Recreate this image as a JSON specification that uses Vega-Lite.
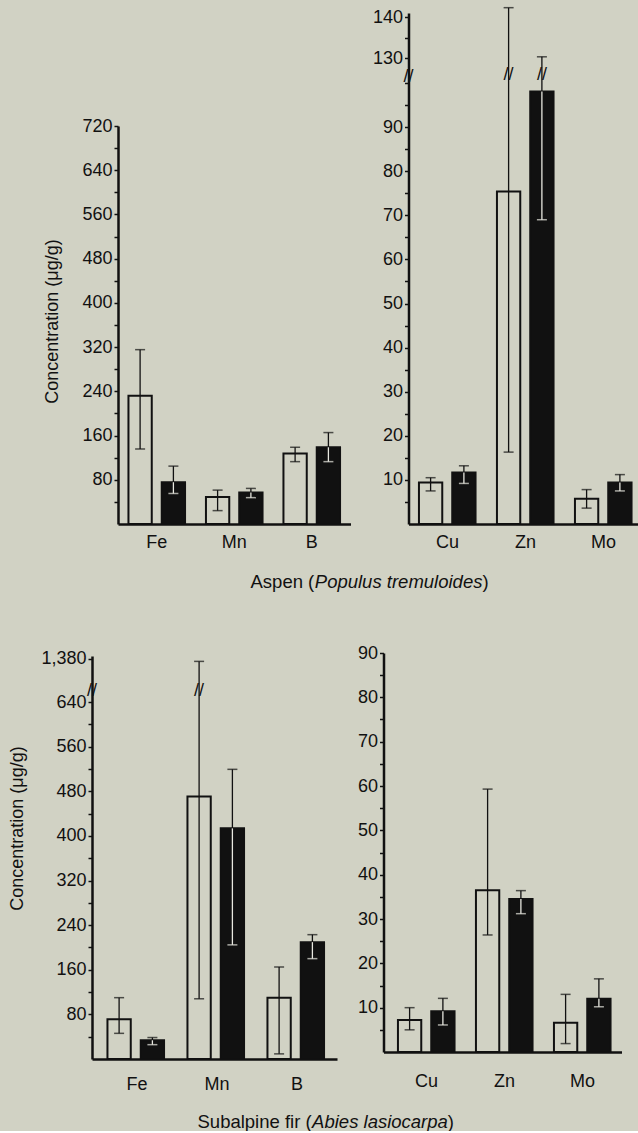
{
  "$schema": "https://vega.github.io/schema/vega-lite/v6.json",
  "background": "#d1d2c4",
  "padding": {"left": 8, "top": 6, "right": 0, "bottom": 0},
  "config": {
    "font": "Liberation Sans",
    "view": {"stroke": null},
    "axis": {
      "domainColor": "#111111", "domainWidth": 2.5,
      "tickColor": "#111111", "tickWidth": 1.5,
      "labelColor": "#111111", "labelFont": "Liberation Sans", "labelFontSize": 18,
      "titleColor": "#111111", "titleFont": "Liberation Sans", "titleFontSize": 18, "titleFontWeight": "normal",
      "grid": false, "labelOverlap": false, "labelFlush": false
    }
  },
  "datasets": {
    "aspenA": [
      {"element": "Fe", "group": "open", "value": 231.8, "lo": 135.7, "hi": 315.4},
      {"element": "Fe", "group": "solid", "value": 75.6, "lo": 55.2, "hi": 104.7},
      {"element": "Mn", "group": "open", "value": 49, "lo": 24.2, "hi": 61.3},
      {"element": "Mn", "group": "solid", "value": 57, "lo": 47.7, "hi": 64.4},
      {"element": "B", "group": "open", "value": 127.7, "lo": 112.8, "hi": 138.8},
      {"element": "B", "group": "solid", "value": 138.8, "lo": 112.8, "hi": 165.4}
    ],
    "aspenB": [
      {"element": "Cu", "group": "open", "value": 9.4, "lo": 7.5, "hi": 10.5},
      {"element": "Cu", "group": "solid", "value": 11.7, "lo": 9.2, "hi": 13.2},
      {"element": "Zn", "group": "open", "value": 75.4, "lo": 16.3, "hi": 142.3},
      {"element": "Zn", "group": "solid", "value": 98.1, "lo": 69, "hi": 130.3},
      {"element": "Mo", "group": "open", "value": 5.7, "lo": 3.6, "hi": 7.8},
      {"element": "Mo", "group": "solid", "value": 9.4, "lo": 7.5, "hi": 11.2}
    ],
    "firA": [
      {"element": "Fe", "group": "open", "value": 71.5, "lo": 46, "hi": 110},
      {"element": "Fe", "group": "solid", "value": 33.6, "lo": 25.7, "hi": 38.5},
      {"element": "Mn", "group": "open", "value": 470.6, "lo": 108, "hi": 1375},
      {"element": "Mn", "group": "solid", "value": 413.7, "lo": 204.7, "hi": 519.5},
      {"element": "B", "group": "open", "value": 110, "lo": 9.2, "hi": 165},
      {"element": "B", "group": "solid", "value": 209.6, "lo": 180, "hi": 223}
    ],
    "firB": [
      {"element": "Cu", "group": "open", "value": 7.2, "lo": 5.0, "hi": 10.0},
      {"element": "Cu", "group": "solid", "value": 9.2, "lo": 6.1, "hi": 12.1},
      {"element": "Zn", "group": "open", "value": 36.5, "lo": 26.4, "hi": 59.3},
      {"element": "Zn", "group": "solid", "value": 34.5, "lo": 31.2, "hi": 36.4},
      {"element": "Mo", "group": "open", "value": 6.6, "lo": 1.9, "hi": 13.0},
      {"element": "Mo", "group": "solid", "value": 12.0, "lo": 10.2, "hi": 16.5}
    ]
  },
  "columns": 2,
  "spacing": {"row": 129, "column": 32.5},
  "bounds": "flush",
  "align": "all",
  "concat": [
    {
      "width": 258.5, "height": 511,
      "data": {"name": "aspenA"},
      "encoding": {
        "x": {"field": "element", "type": "nominal", "sort": ["Fe", "Mn", "B"],
          "scale": {"range": [26, 258.5], "paddingInner": 0, "paddingOuter": 0},
          "axis": {"title": "Aspen (", "labelAngle": 0, "ticks": false, "tickSize": 0, "labelPadding": 18, "labelBaseline": "middle",
            "titleX": 158, "titleY": 57, "titleAlign": "left", "titleBaseline": "middle", "titleFontSize": 18.5, "zindex": 1}},
        "xOffset": {"field": "group", "type": "nominal", "sort": ["open", "solid"], "scale": {"paddingInner": 0.3, "paddingOuter": 0.314}}
      },
      "layer": [
        {"mark": {"type": "rule", "color": "#111111", "strokeWidth": 1.3},
          "encoding": {"y": {"field": "lo", "type": "quantitative", "scale": {"domain": [0, 720], "range": [511, 113], "nice": false, "zero": false},
            "axis": {"title": "Concentration (μg/g)", "values": [40, 80, 120, 160, 200, 240, 280, 320, 360, 400, 440, 480, 520, 560, 600, 640, 680, 720],
                "labelExpr": "datum.value % 80 === 0 ? datum.label : ''", "tickSize": 4, "labelPadding": 2, "offset": -26,
                "titleX": -66, "titleY": 308, "titleAngle": 270, "titleAlign": "center", "titleBaseline": "middle"}}, "y2": {"field": "hi"}}},
        {"mark": {"type": "bar", "stroke": "#111111", "strokeWidth": 2},
          "encoding": {
            "y": {"field": "value", "type": "quantitative", "stack": null, "scale": {"domain": [0, 720], "range": [511, 113], "nice": false, "zero": false},
              "axis": {"title": "Concentration (μg/g)", "values": [40, 80, 120, 160, 200, 240, 280, 320, 360, 400, 440, 480, 520, 560, 600, 640, 680, 720],
                "labelExpr": "datum.value % 80 === 0 ? datum.label : ''", "tickSize": 4, "labelPadding": 2, "offset": -26,
                "titleX": -66, "titleY": 308, "titleAngle": 270, "titleAlign": "center", "titleBaseline": "middle"}},
            "fill": {"condition": {"test": "datum.group === 'solid'", "value": "#111111"}, "value": "transparent"}}},
        {"transform": [{"filter": "datum.group === 'solid'"}],
          "mark": {"type": "rule", "color": "#e8e8e0", "strokeWidth": 1.3},
          "encoding": {"y": {"field": "lo", "type": "quantitative", "scale": {"domain": [0, 720], "range": [511, 113], "nice": false, "zero": false},
            "axis": {"title": "Concentration (μg/g)", "values": [40, 80, 120, 160, 200, 240, 280, 320, 360, 400, 440, 480, 520, 560, 600, 640, 680, 720],
                "labelExpr": "datum.value % 80 === 0 ? datum.label : ''", "tickSize": 4, "labelPadding": 2, "offset": -26,
                "titleX": -66, "titleY": 308, "titleAngle": 270, "titleAlign": "center", "titleBaseline": "middle"}}, "y2": {"field": "value"}}},
        {"mark": {"type": "tick", "color": "#111111", "thickness": 1.5, "size": 10},
          "encoding": {"y": {"field": "hi", "type": "quantitative", "scale": {"domain": [0, 720], "range": [511, 113], "nice": false, "zero": false},
            "axis": {"title": "Concentration (μg/g)", "values": [40, 80, 120, 160, 200, 240, 280, 320, 360, 400, 440, 480, 520, 560, 600, 640, 680, 720],
                "labelExpr": "datum.value % 80 === 0 ? datum.label : ''", "tickSize": 4, "labelPadding": 2, "offset": -26,
                "titleX": -66, "titleY": 308, "titleAngle": 270, "titleAlign": "center", "titleBaseline": "middle"}}}},
        {"mark": {"type": "tick", "thickness": 1.5, "size": 10},
          "encoding": {"y": {"field": "lo", "type": "quantitative", "scale": {"domain": [0, 720], "range": [511, 113], "nice": false, "zero": false},
            "axis": {"title": "Concentration (μg/g)", "values": [40, 80, 120, 160, 200, 240, 280, 320, 360, 400, 440, 480, 520, 560, 600, 640, 680, 720],
                "labelExpr": "datum.value % 80 === 0 ? datum.label : ''", "tickSize": 4, "labelPadding": 2, "offset": -26,
                "titleX": -66, "titleY": 308, "titleAngle": 270, "titleAlign": "center", "titleBaseline": "middle"}},
            "color": {"condition": {"test": "datum.group === 'solid'", "value": "#e8e8e0"}, "value": "#111111"}}}
      ]
    },
    {
      "width": 259, "height": 511,
      "data": {"name": "aspenB"},
      "layer": [
        {
          "encoding": {
            "x": {"field": "element", "type": "nominal", "sort": ["Cu", "Zn", "Mo"],
              "scale": {"range": [25, 259], "paddingInner": 0, "paddingOuter": 0},
              "axis": {"title": "Populus tremuloides", "labelAngle": 0, "ticks": false, "tickSize": 0, "labelPadding": 18, "labelBaseline": "middle",
                "titleX": -69.2, "titleY": 57, "titleAlign": "left", "titleBaseline": "middle", "titleFontSize": 18.5, "titleFontStyle": "italic", "zindex": 1}},
            "xOffset": {"field": "group", "type": "nominal", "sort": ["open", "solid"], "scale": {"paddingInner": 0.3, "paddingOuter": 0.314}}
          },
          "layer": [
            {"mark": {"type": "rule", "color": "#111111", "strokeWidth": 1.3},
              "encoding": {"y": {"field": "lo", "type": "quantitative", "scale": {"domain": [0, 101, 126, 141], "range": [511, 65.6, 61.4, 0], "nice": false, "zero": false},
                "axis": {"title": ")", "values": [5, 10, 15, 20, 25, 30, 35, 40, 45, 50, 55, 60, 65, 70, 75, 80, 85, 90, 95, 100, 130, 135, 140],
                    "labelExpr": "(datum.value % 10 === 0 && datum.value !== 100) ? datum.label : ''", "tickSize": 4, "labelPadding": 2, "offset": -25,
                    "titleX": 73.4, "titleY": 568, "titleAngle": 0, "titleAlign": "left", "titleBaseline": "middle", "titleFontSize": 18.5}}, "y2": {"field": "hi"}}},
            {"mark": {"type": "bar", "stroke": "#111111", "strokeWidth": 2},
              "encoding": {
                "y": {"field": "value", "type": "quantitative", "stack": null, "scale": {"domain": [0, 101, 126, 141], "range": [511, 65.6, 61.4, 0], "nice": false, "zero": false},
                  "axis": {"title": ")", "values": [5, 10, 15, 20, 25, 30, 35, 40, 45, 50, 55, 60, 65, 70, 75, 80, 85, 90, 95, 100, 130, 135, 140],
                    "labelExpr": "(datum.value % 10 === 0 && datum.value !== 100) ? datum.label : ''", "tickSize": 4, "labelPadding": 2, "offset": -25,
                    "titleX": 73.4, "titleY": 568, "titleAngle": 0, "titleAlign": "left", "titleBaseline": "middle", "titleFontSize": 18.5}},
                "fill": {"condition": {"test": "datum.group === 'solid'", "value": "#111111"}, "value": "transparent"}}},
            {"transform": [{"filter": "datum.group === 'solid'"}],
              "mark": {"type": "rule", "color": "#e8e8e0", "strokeWidth": 1.3},
              "encoding": {"y": {"field": "lo", "type": "quantitative", "scale": {"domain": [0, 101, 126, 141], "range": [511, 65.6, 61.4, 0], "nice": false, "zero": false},
                "axis": {"title": ")", "values": [5, 10, 15, 20, 25, 30, 35, 40, 45, 50, 55, 60, 65, 70, 75, 80, 85, 90, 95, 100, 130, 135, 140],
                    "labelExpr": "(datum.value % 10 === 0 && datum.value !== 100) ? datum.label : ''", "tickSize": 4, "labelPadding": 2, "offset": -25,
                    "titleX": 73.4, "titleY": 568, "titleAngle": 0, "titleAlign": "left", "titleBaseline": "middle", "titleFontSize": 18.5}}, "y2": {"field": "value"}}},
            {"mark": {"type": "tick", "color": "#111111", "thickness": 1.5, "size": 10},
              "encoding": {"y": {"field": "hi", "type": "quantitative", "scale": {"domain": [0, 101, 126, 141], "range": [511, 65.6, 61.4, 0], "nice": false, "zero": false},
                "axis": {"title": ")", "values": [5, 10, 15, 20, 25, 30, 35, 40, 45, 50, 55, 60, 65, 70, 75, 80, 85, 90, 95, 100, 130, 135, 140],
                    "labelExpr": "(datum.value % 10 === 0 && datum.value !== 100) ? datum.label : ''", "tickSize": 4, "labelPadding": 2, "offset": -25,
                    "titleX": 73.4, "titleY": 568, "titleAngle": 0, "titleAlign": "left", "titleBaseline": "middle", "titleFontSize": 18.5}}}},
            {"mark": {"type": "tick", "thickness": 1.5, "size": 10},
              "encoding": {"y": {"field": "lo", "type": "quantitative", "scale": {"domain": [0, 101, 126, 141], "range": [511, 65.6, 61.4, 0], "nice": false, "zero": false},
                "axis": {"title": ")", "values": [5, 10, 15, 20, 25, 30, 35, 40, 45, 50, 55, 60, 65, 70, 75, 80, 85, 90, 95, 100, 130, 135, 140],
                    "labelExpr": "(datum.value % 10 === 0 && datum.value !== 100) ? datum.label : ''", "tickSize": 4, "labelPadding": 2, "offset": -25,
                    "titleX": 73.4, "titleY": 568, "titleAngle": 0, "titleAlign": "left", "titleBaseline": "middle", "titleFontSize": 18.5}},
                "color": {"condition": {"test": "datum.group === 'solid'", "value": "#e8e8e0"}, "value": "#111111"}}},
            {"transform": [{"filter": "datum.element === 'Zn'"}],
              "mark": {"type": "text", "text": "//", "fontSize": 18, "font": "Liberation Sans", "color": "#111111"},
              "encoding": {"y": {"datum": 122, "type": "quantitative", "scale": {"domain": [0, 101, 126, 141], "range": [511, 65.6, 61.4, 0], "nice": false, "zero": false},
                "axis": {"title": ")", "values": [5, 10, 15, 20, 25, 30, 35, 40, 45, 50, 55, 60, 65, 70, 75, 80, 85, 90, 95, 100, 130, 135, 140],
                    "labelExpr": "(datum.value % 10 === 0 && datum.value !== 100) ? datum.label : ''", "tickSize": 4, "labelPadding": 2, "offset": -25,
                    "titleX": 73.4, "titleY": 568, "titleAngle": 0, "titleAlign": "left", "titleBaseline": "middle", "titleFontSize": 18.5}}}}
          ]
        },
        {"transform": [{"filter": "datum.element === 'Zn' && datum.group === 'open'"}],
          "mark": {"type": "text", "text": "//", "fontSize": 18, "font": "Liberation Sans", "color": "#111111"},
          "encoding": {"x": {"value": 25}, "y": {"datum": 113, "type": "quantitative", "scale": {"domain": [0, 101, 126, 141], "range": [511, 65.6, 61.4, 0], "nice": false, "zero": false},
            "axis": {"title": ")", "values": [5, 10, 15, 20, 25, 30, 35, 40, 45, 50, 55, 60, 65, 70, 75, 80, 85, 90, 95, 100, 130, 135, 140],
                    "labelExpr": "(datum.value % 10 === 0 && datum.value !== 100) ? datum.label : ''", "tickSize": 4, "labelPadding": 2, "offset": -25,
                    "titleX": 73.4, "titleY": 568, "titleAngle": 0, "titleAlign": "left", "titleBaseline": "middle", "titleFontSize": 18.5}}}}
      ]
    },
    {
      "width": 245, "height": 406,
      "data": {"name": "firA"},
      "layer": [
        {
          "encoding": {
            "x": {"field": "element", "type": "nominal", "sort": ["Fe", "Mn", "B"],
              "scale": {"range": [0, 245], "paddingInner": 0, "paddingOuter": 0.03125, "align": 1},
              "axis": {"title": "Subalpine fir (", "labelAngle": 0, "ticks": false, "tickSize": 0, "labelPadding": 25, "labelBaseline": "middle",
                "titleX": 105, "titleY": 62, "titleAlign": "left", "titleBaseline": "middle", "titleFontSize": 18.5, "zindex": 1}},
            "xOffset": {"field": "group", "type": "nominal", "sort": ["open", "solid"], "scale": {"paddingInner": 0.3, "paddingOuter": 0.314}}
          },
          "layer": [
            {"mark": {"type": "rule", "color": "#111111", "strokeWidth": 1.3},
              "encoding": {"y": {"field": "lo", "type": "quantitative", "scale": {"domain": [0, 648, 1333, 1385], "range": [406, 44.7, 31, 3], "nice": false, "zero": false},
                "axis": {"title": "Concentration (μg/g)", "values": [40, 80, 120, 160, 200, 240, 280, 320, 360, 400, 440, 480, 520, 560, 600, 640, 1380],
                    "labelExpr": "(datum.value % 80 === 0 || datum.value === 1380) ? format(datum.value, ',') : ''", "tickSize": 4, "labelPadding": 2,
                    "titleX": -75, "titleY": 175, "titleAngle": 270, "titleAlign": "center", "titleBaseline": "middle"}}, "y2": {"field": "hi"}}},
            {"mark": {"type": "bar", "stroke": "#111111", "strokeWidth": 2},
              "encoding": {
                "y": {"field": "value", "type": "quantitative", "stack": null, "scale": {"domain": [0, 648, 1333, 1385], "range": [406, 44.7, 31, 3], "nice": false, "zero": false},
                  "axis": {"title": "Concentration (μg/g)", "values": [40, 80, 120, 160, 200, 240, 280, 320, 360, 400, 440, 480, 520, 560, 600, 640, 1380],
                    "labelExpr": "(datum.value % 80 === 0 || datum.value === 1380) ? format(datum.value, ',') : ''", "tickSize": 4, "labelPadding": 2,
                    "titleX": -75, "titleY": 175, "titleAngle": 270, "titleAlign": "center", "titleBaseline": "middle"}},
                "fill": {"condition": {"test": "datum.group === 'solid'", "value": "#111111"}, "value": "transparent"}}},
            {"transform": [{"filter": "datum.group === 'solid'"}],
              "mark": {"type": "rule", "color": "#e8e8e0", "strokeWidth": 1.3},
              "encoding": {"y": {"field": "lo", "type": "quantitative", "scale": {"domain": [0, 648, 1333, 1385], "range": [406, 44.7, 31, 3], "nice": false, "zero": false},
                "axis": {"title": "Concentration (μg/g)", "values": [40, 80, 120, 160, 200, 240, 280, 320, 360, 400, 440, 480, 520, 560, 600, 640, 1380],
                    "labelExpr": "(datum.value % 80 === 0 || datum.value === 1380) ? format(datum.value, ',') : ''", "tickSize": 4, "labelPadding": 2,
                    "titleX": -75, "titleY": 175, "titleAngle": 270, "titleAlign": "center", "titleBaseline": "middle"}}, "y2": {"field": "value"}}},
            {"mark": {"type": "tick", "color": "#111111", "thickness": 1.5, "size": 10},
              "encoding": {"y": {"field": "hi", "type": "quantitative", "scale": {"domain": [0, 648, 1333, 1385], "range": [406, 44.7, 31, 3], "nice": false, "zero": false},
                "axis": {"title": "Concentration (μg/g)", "values": [40, 80, 120, 160, 200, 240, 280, 320, 360, 400, 440, 480, 520, 560, 600, 640, 1380],
                    "labelExpr": "(datum.value % 80 === 0 || datum.value === 1380) ? format(datum.value, ',') : ''", "tickSize": 4, "labelPadding": 2,
                    "titleX": -75, "titleY": 175, "titleAngle": 270, "titleAlign": "center", "titleBaseline": "middle"}}}},
            {"mark": {"type": "tick", "thickness": 1.5, "size": 10},
              "encoding": {"y": {"field": "lo", "type": "quantitative", "scale": {"domain": [0, 648, 1333, 1385], "range": [406, 44.7, 31, 3], "nice": false, "zero": false},
                "axis": {"title": "Concentration (μg/g)", "values": [40, 80, 120, 160, 200, 240, 280, 320, 360, 400, 440, 480, 520, 560, 600, 640, 1380],
                    "labelExpr": "(datum.value % 80 === 0 || datum.value === 1380) ? format(datum.value, ',') : ''", "tickSize": 4, "labelPadding": 2,
                    "titleX": -75, "titleY": 175, "titleAngle": 270, "titleAlign": "center", "titleBaseline": "middle"}},
                "color": {"condition": {"test": "datum.group === 'solid'", "value": "#e8e8e0"}, "value": "#111111"}}},
            {"transform": [{"filter": "datum.element === 'Mn' && datum.group === 'open'"}],
              "mark": {"type": "text", "text": "//", "fontSize": 18, "font": "Liberation Sans", "color": "#111111"},
              "encoding": {"y": {"datum": 1000, "type": "quantitative", "scale": {"domain": [0, 648, 1333, 1385], "range": [406, 44.7, 31, 3], "nice": false, "zero": false},
                "axis": {"title": "Concentration (μg/g)", "values": [40, 80, 120, 160, 200, 240, 280, 320, 360, 400, 440, 480, 520, 560, 600, 640, 1380],
                    "labelExpr": "(datum.value % 80 === 0 || datum.value === 1380) ? format(datum.value, ',') : ''", "tickSize": 4, "labelPadding": 2,
                    "titleX": -75, "titleY": 175, "titleAngle": 270, "titleAlign": "center", "titleBaseline": "middle"}}}}
          ]
        },
        {"transform": [{"filter": "datum.element === 'Mn' && datum.group === 'open'"}],
          "mark": {"type": "text", "text": "//", "fontSize": 18, "font": "Liberation Sans", "color": "#111111"},
          "encoding": {"x": {"value": 0}, "y": {"datum": 1000, "type": "quantitative", "scale": {"domain": [0, 648, 1333, 1385], "range": [406, 44.7, 31, 3], "nice": false, "zero": false},
            "axis": {"title": "Concentration (μg/g)", "values": [40, 80, 120, 160, 200, 240, 280, 320, 360, 400, 440, 480, 520, 560, 600, 640, 1380],
                    "labelExpr": "(datum.value % 80 === 0 || datum.value === 1380) ? format(datum.value, ',') : ''", "tickSize": 4, "labelPadding": 2,
                    "titleX": -75, "titleY": 175, "titleAngle": 270, "titleAlign": "center", "titleBaseline": "middle"}}}}
      ]
    },
    {
      "width": 238, "height": 399,
      "data": {"name": "firB"},
      "encoding": {
        "x": {"field": "element", "type": "nominal", "sort": ["Cu", "Zn", "Mo"],
          "scale": {"range": [0, 238], "paddingInner": 0, "paddingOuter": 0.02564, "align": 1},
          "axis": {"title": "Abies lasiocarpa", "labelAngle": 0, "ticks": false, "tickSize": 0, "labelPadding": 29, "labelBaseline": "middle",
            "titleX": -71.9, "titleY": 69, "titleAlign": "left", "titleBaseline": "middle", "titleFontSize": 18.5, "titleFontStyle": "italic", "zindex": 1}},
        "xOffset": {"field": "group", "type": "nominal", "sort": ["open", "solid"], "scale": {"paddingInner": 0.3, "paddingOuter": 0.314}}
      },
      "layer": [
        {"mark": {"type": "rule", "color": "#111111", "strokeWidth": 1.3},
          "encoding": {"y": {"field": "lo", "type": "quantitative", "scale": {"domain": [0, 90], "range": [399, 0], "nice": false, "zero": false},
            "axis": {"title": ")", "values": [5, 10, 15, 20, 25, 30, 35, 40, 45, 50, 55, 60, 65, 70, 75, 80, 85, 90],
                "labelExpr": "datum.value % 10 === 0 ? datum.label : ''", "tickSize": 4, "labelPadding": 2,
                "titleX": 63.8, "titleY": 468, "titleAngle": 0, "titleAlign": "left", "titleBaseline": "middle", "titleFontSize": 18.5}}, "y2": {"field": "hi"}}},
        {"mark": {"type": "bar", "stroke": "#111111", "strokeWidth": 2},
          "encoding": {
            "y": {"field": "value", "type": "quantitative", "stack": null, "scale": {"domain": [0, 90], "range": [399, 0], "nice": false, "zero": false},
              "axis": {"title": ")", "values": [5, 10, 15, 20, 25, 30, 35, 40, 45, 50, 55, 60, 65, 70, 75, 80, 85, 90],
                "labelExpr": "datum.value % 10 === 0 ? datum.label : ''", "tickSize": 4, "labelPadding": 2,
                "titleX": 63.8, "titleY": 468, "titleAngle": 0, "titleAlign": "left", "titleBaseline": "middle", "titleFontSize": 18.5}},
            "fill": {"condition": {"test": "datum.group === 'solid'", "value": "#111111"}, "value": "transparent"}}},
        {"transform": [{"filter": "datum.group === 'solid'"}],
          "mark": {"type": "rule", "color": "#e8e8e0", "strokeWidth": 1.3},
          "encoding": {"y": {"field": "lo", "type": "quantitative", "scale": {"domain": [0, 90], "range": [399, 0], "nice": false, "zero": false},
            "axis": {"title": ")", "values": [5, 10, 15, 20, 25, 30, 35, 40, 45, 50, 55, 60, 65, 70, 75, 80, 85, 90],
                "labelExpr": "datum.value % 10 === 0 ? datum.label : ''", "tickSize": 4, "labelPadding": 2,
                "titleX": 63.8, "titleY": 468, "titleAngle": 0, "titleAlign": "left", "titleBaseline": "middle", "titleFontSize": 18.5}}, "y2": {"field": "value"}}},
        {"mark": {"type": "tick", "color": "#111111", "thickness": 1.5, "size": 10},
          "encoding": {"y": {"field": "hi", "type": "quantitative", "scale": {"domain": [0, 90], "range": [399, 0], "nice": false, "zero": false},
            "axis": {"title": ")", "values": [5, 10, 15, 20, 25, 30, 35, 40, 45, 50, 55, 60, 65, 70, 75, 80, 85, 90],
                "labelExpr": "datum.value % 10 === 0 ? datum.label : ''", "tickSize": 4, "labelPadding": 2,
                "titleX": 63.8, "titleY": 468, "titleAngle": 0, "titleAlign": "left", "titleBaseline": "middle", "titleFontSize": 18.5}}}},
        {"mark": {"type": "tick", "thickness": 1.5, "size": 10},
          "encoding": {"y": {"field": "lo", "type": "quantitative", "scale": {"domain": [0, 90], "range": [399, 0], "nice": false, "zero": false},
            "axis": {"title": ")", "values": [5, 10, 15, 20, 25, 30, 35, 40, 45, 50, 55, 60, 65, 70, 75, 80, 85, 90],
                "labelExpr": "datum.value % 10 === 0 ? datum.label : ''", "tickSize": 4, "labelPadding": 2,
                "titleX": 63.8, "titleY": 468, "titleAngle": 0, "titleAlign": "left", "titleBaseline": "middle", "titleFontSize": 18.5}},
            "color": {"condition": {"test": "datum.group === 'solid'", "value": "#e8e8e0"}, "value": "#111111"}}}
      ]
    }
  ]
}
